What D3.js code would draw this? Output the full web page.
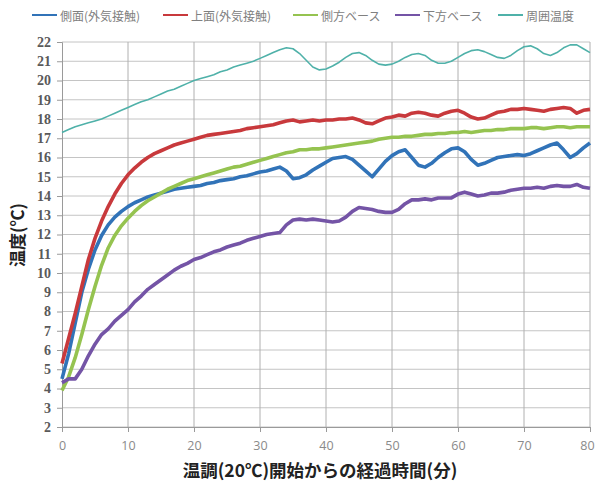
<!DOCTYPE html>
<html>
<head>
<meta charset="utf-8">
<script src="https://cdn.jsdelivr.net/npm/d3@7"></script>
<style>
  html, body { margin: 0; padding: 0; background: #ffffff; }
  svg { display: block; }
</style>
</head>
<body>
<svg id="chart" width="597" height="481"></svg>
<script>
// Elapsed minutes since temperature control (20°C) started
const minutes = d3.range(0, 81);

// Series names (legend order)
const seriesNames = ["側面(外気接触)", "上面(外気接触)", "側方ベース", "下方ベース", "周囲温度"];

// Temperatures (°C), one value per minute
const sideSurface = [
  4.5, 5.8, 7.4, 9.0, 10.2, 11.2, 11.95, 12.5, 12.9, 13.2,
  13.45, 13.65, 13.8, 13.95, 14.05, 14.15, 14.25, 14.35, 14.4, 14.45,
  14.5, 14.55, 14.65, 14.7, 14.8, 14.85, 14.9, 15.0, 15.05, 15.15,
  15.25, 15.3, 15.4, 15.5, 15.3, 14.9, 14.95, 15.1, 15.35, 15.55,
  15.75, 15.95, 16.0, 16.05, 15.9, 15.6, 15.3, 15.0, 15.4, 15.8,
  16.1, 16.3, 16.4, 16.0, 15.6, 15.5, 15.7, 16.0, 16.25, 16.45,
  16.5, 16.3, 15.9, 15.6, 15.7, 15.85, 16.0, 16.05, 16.1, 16.15,
  16.1, 16.2, 16.35, 16.5, 16.65, 16.75, 16.4, 16.0, 16.2, 16.5,
  16.75
];
const topSurface = [
  5.3, 6.6, 7.9, 9.3, 10.7, 11.8, 12.7, 13.45, 14.1, 14.65,
  15.1, 15.45, 15.75, 16.0, 16.2, 16.35, 16.5, 16.65, 16.75, 16.85,
  16.95, 17.05, 17.15, 17.2, 17.25, 17.3, 17.35, 17.4, 17.5, 17.55,
  17.6, 17.65, 17.7, 17.8, 17.9, 17.95, 17.85, 17.9, 17.95, 17.9,
  17.95, 17.95, 18.0, 18.0, 18.05, 17.95, 17.8, 17.75, 17.9, 18.05,
  18.1, 18.2, 18.15, 18.3, 18.35, 18.3, 18.2, 18.15, 18.3, 18.4,
  18.45, 18.3, 18.1, 18.0, 18.05, 18.2, 18.35, 18.4, 18.5, 18.5,
  18.55, 18.5, 18.45, 18.4, 18.5, 18.55, 18.6, 18.55, 18.3, 18.45,
  18.5
];
const sideBase = [
  3.9, 4.6, 5.6, 6.8, 8.1, 9.3, 10.4, 11.3, 11.95, 12.45,
  12.85, 13.2, 13.5, 13.75, 13.95, 14.15, 14.35, 14.5, 14.65, 14.8,
  14.9, 15.0, 15.1, 15.2, 15.3, 15.4, 15.5, 15.55, 15.65, 15.75,
  15.85, 15.95, 16.05, 16.15, 16.25, 16.3, 16.4, 16.4, 16.45, 16.45,
  16.5, 16.55, 16.6, 16.65, 16.7, 16.75, 16.8, 16.85, 16.95, 17.0,
  17.05, 17.05, 17.1, 17.1, 17.15, 17.2, 17.2, 17.25, 17.25, 17.3,
  17.3, 17.35, 17.3, 17.35, 17.4, 17.4, 17.45, 17.45, 17.5, 17.5,
  17.5, 17.55, 17.55, 17.5, 17.55, 17.6, 17.6, 17.55, 17.6, 17.6,
  17.6
];
const bottomBase = [
  4.3, 4.5, 4.5, 5.0, 5.7, 6.3, 6.8, 7.1, 7.5, 7.8,
  8.1, 8.5, 8.8, 9.15, 9.4, 9.65, 9.9, 10.15, 10.35, 10.5,
  10.7, 10.8, 10.95, 11.1, 11.2, 11.35, 11.45, 11.55, 11.7, 11.8,
  11.9, 12.0, 12.05, 12.1, 12.5, 12.75, 12.8, 12.75, 12.8, 12.75,
  12.7, 12.65, 12.7, 12.9, 13.2, 13.4, 13.35, 13.3, 13.2, 13.15,
  13.15, 13.3, 13.6, 13.8, 13.8, 13.85, 13.8, 13.9, 13.9, 13.9,
  14.1, 14.2, 14.1, 14.0, 14.05, 14.15, 14.15, 14.2, 14.3, 14.35,
  14.4, 14.4, 14.45, 14.4, 14.5, 14.55, 14.5, 14.5, 14.6, 14.45,
  14.4
];
const ambient = [
  17.3, 17.45, 17.6, 17.7, 17.8, 17.9, 18.0, 18.15, 18.3, 18.45,
  18.6, 18.75, 18.9, 19.0, 19.15, 19.3, 19.45, 19.55, 19.7, 19.85,
  20.0, 20.1, 20.2, 20.3, 20.45, 20.55, 20.7, 20.8, 20.9, 21.0,
  21.15, 21.3, 21.45, 21.6, 21.7, 21.65, 21.4, 21.05, 20.7, 20.55,
  20.6, 20.75, 20.95, 21.2, 21.4, 21.45, 21.3, 21.05, 20.85, 20.8,
  20.85, 21.0, 21.2, 21.35, 21.4, 21.3, 21.05, 20.9, 20.9, 21.0,
  21.2, 21.4, 21.55, 21.6, 21.5, 21.35, 21.2, 21.15, 21.3, 21.55,
  21.75, 21.8, 21.65, 21.4, 21.3, 21.45, 21.7, 21.85, 21.85, 21.65,
  21.45
];

// Axis ticks
const xTicks = [0, 10, 20, 30, 40, 50, 60, 70, 80];
const yTicks = d3.range(2, 23);

const seriesValues = [sideSurface, topSurface, sideBase, bottomBase, ambient];
const seriesColors = ["#3173b8", "#c8393c", "#95c350", "#7454a6", "#4fb1a9"];
const seriesWidths = [3.6, 3.6, 3.6, 3.6, 1.6];

const svg = d3.select("#chart");

const x = d3.scaleLinear().domain([0, 80]).range([62, 590]);
const y = d3.scaleLinear().domain([2, 22]).range([427, 42]);

// Grid
const grid = svg.append("g");
grid.selectAll("line.h").data(yTicks).join("line")
  .attr("x1", x(0)).attr("x2", x(80))
  .attr("y1", d => y(d)).attr("y2", d => y(d))
  .attr("stroke", "#c4c4c4").attr("stroke-width", 1);
grid.selectAll("line.v").data(xTicks.slice(1)).join("line")
  .attr("x1", d => x(d)).attr("x2", d => x(d))
  .attr("y1", y(2)).attr("y2", y(22))
  .attr("stroke", "#b0b0b0").attr("stroke-width", 1);

// Axes
const yAxis = svg.append("g")
  .attr("transform", `translate(${x(0)},0)`)
  .call(d3.axisLeft(y).tickValues(yTicks).tickSize(5).tickPadding(6).tickFormat(d3.format("d")));
yAxis.select(".domain").attr("stroke", "#9a9a9a");
yAxis.selectAll(".tick line").attr("stroke", "#9a9a9a");
yAxis.selectAll(".tick text")
  .attr("font-family", "'Liberation Serif', 'DejaVu Serif', serif")
  .attr("font-size", 14).attr("font-weight", "bold").attr("fill", "#5a5a5a");

const xAxis = svg.append("g")
  .attr("transform", `translate(0,${y(2)})`)
  .call(d3.axisBottom(x).tickValues(xTicks).tickSize(5).tickPadding(9).tickFormat(d3.format("d")));
xAxis.select(".domain").attr("stroke", "#9a9a9a");
xAxis.selectAll(".tick line").attr("stroke", "#9a9a9a");
xAxis.selectAll(".tick text")
  .attr("font-family", "'Open Sans', 'Noto Sans', sans-serif")
  .attr("font-size", 12.5).attr("fill", "#8a8a8a");
// keep the last label inside the frame
xAxis.selectAll(".tick text").filter(d => d === 80).attr("dx", -3);

// Series lines
const line = d3.line()
  .x((d, i) => x(minutes[i]))
  .y(d => y(d));
svg.append("g").selectAll("path").data(seriesValues).join("path")
  .attr("d", d => line(d))
  .attr("fill", "none")
  .attr("stroke", (d, i) => seriesColors[i])
  .attr("stroke-width", (d, i) => seriesWidths[i])
  .attr("stroke-linejoin", "round");

// Legend
const legendX = [32, 163, 293, 395, 498];
const legend = svg.append("g").attr("font-family", "'Noto Sans CJK JP', sans-serif");
seriesNames.forEach((name, i) => {
  legend.append("line")
    .attr("x1", legendX[i]).attr("x2", legendX[i] + 25)
    .attr("y1", 15).attr("y2", 15)
    .attr("stroke", seriesColors[i]).attr("stroke-width", 2);
  legend.append("text")
    .attr("x", legendX[i] + 28).attr("y", 15)
    .attr("dominant-baseline", "central")
    .attr("font-size", 12).attr("fill", "#808080")
    .text(name);
});

// Axis titles
svg.append("text")
  .attr("transform", `translate(16,235) rotate(-90)`)
  .attr("text-anchor", "middle").attr("dominant-baseline", "central")
  .attr("font-family", "'Noto Sans CJK JP', sans-serif")
  .attr("font-size", 17).attr("font-weight", "bold").attr("fill", "#222")
  .text("温度(℃)");

svg.append("text")
  .attr("x", 320).attr("y", 469)
  .attr("text-anchor", "middle").attr("dominant-baseline", "central")
  .attr("font-family", "'Noto Sans CJK JP', sans-serif")
  .attr("font-size", 17.5).attr("font-weight", "bold").attr("fill", "#222")
  .text("温調(20℃)開始からの経過時間(分)");
</script>
</body>
</html>
